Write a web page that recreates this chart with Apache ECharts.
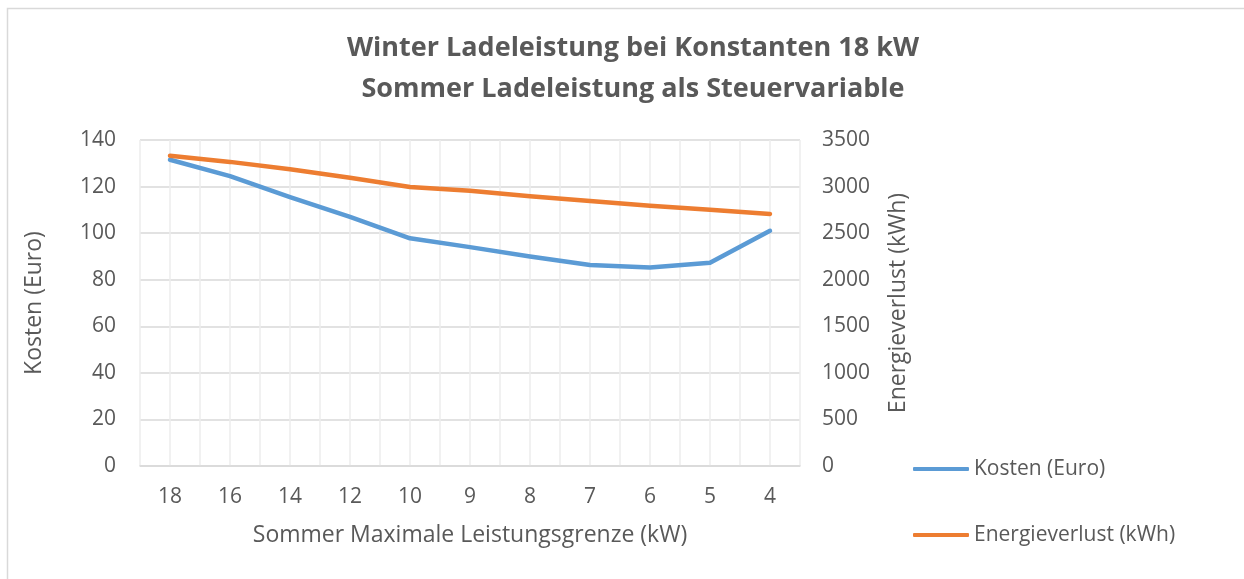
<!DOCTYPE html>
<html>
<head>
<meta charset="utf-8">
<script src="https://cdn.jsdelivr.net/npm/echarts@6/dist/echarts.min.js"></script>
<style>
  html, body { margin: 0; padding: 0; background: #fff; }
  #chart { width: 1244px; height: 579px; }
</style>
</head>
<body>
<div id="chart"></div>
<script>
// x categories: summer max charging power (kW)
var categories = ['18', '16', '14', '12', '10', '9', '8', '7', '6', '5', '4'];
// Kosten (Euro), left axis
var kosten = [131.5, 124.5, 115.5, 107, 97.8, 94, 90, 86.3, 85.2, 87.3, 101];
// Energieverlust (kWh), right axis
var energie = [3330, 3265, 3185, 3095, 2995, 2955, 2895, 2845, 2795, 2750, 2706];

var gray = '#595959';
var font = 'Open Sans';

var myChart = echarts.init(document.getElementById('chart'));

option = {
    backgroundColor: '#fff',
    animation: false,
    textStyle: { fontFamily: font },
    title: {
        text: 'Winter Ladeleistung bei Konstanten 18 kW\nSommer Ladeleistung als Steuervariable',
        left: 628,
        top: 23,
        textAlign: 'center',
        textStyle: {
            fontFamily: font,
            fontSize: 27,
            fontWeight: 'bold',
            color: gray,
            lineHeight: 41
        }
    },
    graphic: [
        {
            type: 'rect',
            shape: { x: 7.5, y: 8.5, width: 1400, height: 700 },
            style: { fill: null, stroke: '#d9d9d9', lineWidth: 1.5 },
            silent: true
        }
    ],
    legend: {
        orient: 'vertical',
        left: 908,
        top: 452,
        itemWidth: 56,
        itemHeight: 4,
        itemGap: 42,
        icon: 'roundRect',
        textStyle: { fontFamily: font, fontSize: 21, color: gray, lineHeight: 24 },
        data: ['Kosten (Euro)', 'Energieverlust (kWh)']
    },
    grid: { left: 140, top: 140, width: 660, height: 326, containLabel: false },
    xAxis: [
        {
            type: 'category',
            data: categories,
            boundaryGap: true,
            name: 'Sommer Maximale Leistungsgrenze (kW)',
            nameLocation: 'middle',
            nameGap: 58,
            nameTextStyle: { fontFamily: font, fontSize: 23, color: gray },
            axisLine: { lineStyle: { color: '#d9d9d9', width: 1.5 } },
            axisTick: { show: false },
            axisLabel: { margin: 21, fontFamily: font, fontSize: 21, color: gray },
            splitLine: { show: false }
        },
        {
            // helper axis for the fine vertical gridlines (two per category)
            type: 'value',
            min: 0,
            max: 22,
            interval: 1,
            position: 'bottom',
            axisLine: { show: false },
            axisTick: { show: false },
            axisLabel: { show: false },
            splitLine: { show: true, lineStyle: { color: '#ededed', width: 1.5 } }
        }
    ],
    yAxis: [
        {
            type: 'value',
            min: 0,
            max: 140,
            interval: 20,
            name: 'Kosten (Euro)',
            nameLocation: 'middle',
            nameGap: 94,
            nameTextStyle: { fontFamily: font, fontSize: 23, color: gray },
            axisLine: { show: false },
            axisTick: { show: false },
            axisLabel: { margin: 24, fontFamily: font, fontSize: 21, color: gray },
            splitLine: { show: true, lineStyle: { color: '#d9d9d9', width: 1.5 } }
        },
        {
            type: 'value',
            min: 0,
            max: 3500,
            interval: 500,
            position: 'right',
            name: 'Energieverlust (kWh)',
            nameLocation: 'middle',
            nameGap: 87,
            nameTextStyle: { fontFamily: font, fontSize: 23, color: gray },
            axisLine: { show: false },
            axisTick: { show: false },
            axisLabel: {
                margin: 22, fontFamily: font, fontSize: 21, color: gray,
                formatter: function (value) { return String(value); }
            },
            splitLine: { show: false }
        }
    ],
    series: [
        {
            name: 'Kosten (Euro)',
            type: 'line',
            xAxisIndex: 0,
            yAxisIndex: 0,
            data: kosten,
            symbol: 'none',
            color: '#5b9bd5',
            lineStyle: { width: 4.5, color: '#5b9bd5', cap: 'round', join: 'round' }
        },
        {
            name: 'Energieverlust (kWh)',
            type: 'line',
            xAxisIndex: 0,
            yAxisIndex: 1,
            data: energie,
            symbol: 'none',
            color: '#ed7d31',
            lineStyle: { width: 4.5, color: '#ed7d31', cap: 'round', join: 'round' }
        }
    ]
};

myChart.setOption(option, true);
</script>
</body>
</html>
